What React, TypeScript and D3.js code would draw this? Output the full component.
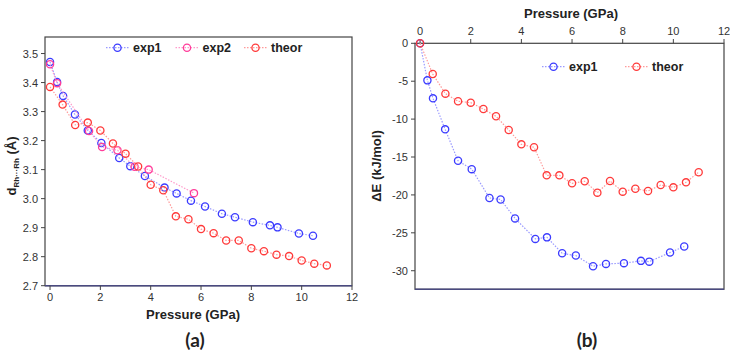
import React from "react";
import * as d3 from "d3";

// Panel (a): Rh···Rh distance vs pressure
const exp1AX = [0, 0.28, 0.52, 0.99, 1.5, 2.04, 2.75, 3.19, 3.77, 4.55, 5.03, 5.6, 6.16, 6.83, 7.35, 8.06, 8.74, 9.04, 9.89, 10.45];
const exp1AY = [3.471, 3.402, 3.354, 3.29, 3.235, 3.192, 3.14, 3.112, 3.078, 3.038, 3.018, 2.993, 2.973, 2.948, 2.936, 2.919, 2.908, 2.901, 2.88, 2.872];
const exp2AX = [0, 0.28, 1.55, 2.07, 2.68, 3.36, 3.92, 5.72];
const exp2AY = [3.463, 3.398, 3.233, 3.178, 3.167, 3.11, 3.1, 3.019];
const theorAX = [0, 0.5, 1, 1.5, 2, 2.5, 3, 3.5, 4, 4.5, 5, 5.5, 6, 6.5, 7, 7.5, 8, 8.5, 9, 9.5, 10, 10.5, 11];
const theorAY = [3.385, 3.324, 3.254, 3.262, 3.235, 3.19, 3.155, 3.111, 3.048, 3.029, 2.939, 2.929, 2.895, 2.881, 2.856, 2.856, 2.829, 2.819, 2.807, 2.802, 2.787, 2.776, 2.77];

// Panel (b): energy vs pressure
const exp1BX = [0, 0.29, 0.51, 0.99, 1.5, 2.04, 2.74, 3.18, 3.75, 4.55, 5.01, 5.61, 6.15, 6.83, 7.34, 8.05, 8.72, 9.05, 9.87, 10.43];
const exp1BY = [0, -4.89, -7.26, -11.35, -15.5, -16.6, -20.4, -20.6, -23.1, -25.8, -25.6, -27.7, -28.0, -29.4, -29.1, -29.0, -28.7, -28.8, -27.6, -26.8];
const theorBX = [0, 0.5, 1, 1.5, 2, 2.5, 3, 3.5, 4, 4.5, 5, 5.5, 6, 6.5, 7, 7.5, 8, 8.5, 9, 9.5, 10, 10.5, 11];
const theorBY = [0, -4.05, -6.64, -7.65, -7.83, -8.67, -9.63, -11.44, -13.33, -13.72, -17.42, -17.42, -18.47, -18.2, -19.7, -18.17, -19.57, -19.18, -19.48, -18.7, -19.0, -18.34, -17.0];

const xTicks = [0, 2, 4, 6, 8, 10, 12];
const yTicksA = [2.7, 2.8, 2.9, 3.0, 3.1, 3.2, 3.3, 3.4, 3.5];
const yTicksB = [0, -5, -10, -15, -20, -25, -30];

const BLUE = "#3b3bff";
const PINK = "#ff3d9a";
const RED = "#ff3a3a";
const LBLUE = "#9a9aff";
const LPINK = "#ff9acb";
const LRED = "#ff9a9a";

const FONT = "'Liberation Sans', Arial, sans-serif";

type S = { xs: number[]; ys: number[]; c: string; lc: string };

function Series({ s, x, y }: { s: S; x: any; y: any }) {
  const pts: [number, number][] = s.xs.map((v, i) => [x(v), y(s.ys[i])]);
  const line = d3.line()(pts) || "";
  return (
    <g>
      <path d={line} fill="none" stroke={s.lc} strokeWidth={1.2} strokeDasharray="1.5,1.5" />
      {pts.map((p, i) => (
        <circle key={i} cx={p[0]} cy={p[1]} r={3.6} fill="none" stroke={s.c} strokeWidth={1.3} />
      ))}
    </g>
  );
}

function LegendItem({ x, y, c, lc, label }: { x: number; y: number; c: string; lc: string; label: string }) {
  return (
    <g>
      <line x1={x} x2={x + 23} y1={y} y2={y} stroke={lc} strokeWidth={1.2} strokeDasharray="1.5,1.5" />
      <circle cx={x + 11.5} cy={y} r={3.6} fill="none" stroke={c} strokeWidth={1.3} />
      <text x={x + 27} y={y + 4.5} fontSize={12.5} fontWeight="bold" fontFamily={FONT} fill="#222">{label}</text>
    </g>
  );
}

export default function App() {
  // Panel a
  const ax = d3.scaleLinear().domain([-0.2, 12]).range([45, 352]);
  const ay = d3.scaleLinear().domain([2.7, 3.557]).range([285.7, 37]);
  // Panel b
  const bx = d3.scaleLinear().domain([-0.2, 12]).range([415, 724]);
  const by = d3.scaleLinear().domain([-32.45, 0]).range([289.3, 43.3]);

  const tickFs = 11;

  return (
    <svg width={730} height={353} style={{ position: "absolute", left: 0, top: 0, background: "#fff" }}>
      {/* ===== Panel a ===== */}
      <rect x={45} y={37} width={307} height={248.7} fill="none" stroke="#444" strokeWidth={1.2} />
      <line x1={45} x2={352} y1={285.7} y2={285.7} stroke="#4a4a80" strokeWidth={1.6} />
      {xTicks.map((t) => (
        <g key={"ax" + t}>
          <line x1={ax(t)} x2={ax(t)} y1={285.7} y2={290} stroke="#444" />
          <text x={ax(t)} y={301} textAnchor="middle" fontSize={tickFs} fontFamily={FONT} fill="#333">{t}</text>
        </g>
      ))}
      {yTicksA.map((t) => (
        <g key={"ay" + t}>
          <line x1={41} x2={45} y1={ay(t)} y2={ay(t)} stroke="#444" />
          <text x={38} y={ay(t) + 4} textAnchor="end" fontSize={tickFs} fontFamily={FONT} fill="#333">{t.toFixed(1)}</text>
        </g>
      ))}
      <text x={193} y={319} textAnchor="middle" fontSize={13} fontWeight="bold" fontFamily={FONT} fill="#222">Pressure (GPa)</text>
      <text transform="translate(16,166) rotate(-90)" textAnchor="middle" fontSize={13} fontWeight="bold" fontFamily={FONT} fill="#222">
        d<tspan fontSize={8} dy={3}>Rh···Rh</tspan><tspan dy={-3}> (Å)</tspan>
      </text>
      <Series s={{ xs: exp1AX, ys: exp1AY, c: BLUE, lc: LBLUE }} x={ax} y={ay} />
      <Series s={{ xs: exp2AX, ys: exp2AY, c: PINK, lc: LPINK }} x={ax} y={ay} />
      <Series s={{ xs: theorAX, ys: theorAY, c: RED, lc: LRED }} x={ax} y={ay} />
      <LegendItem x={106} y={47.7} c={BLUE} lc={LBLUE} label="exp1" />
      <LegendItem x={175.5} y={47.7} c={PINK} lc={LPINK} label="exp2" />
      <LegendItem x={244} y={47.7} c={RED} lc={LRED} label="theor" />
      <text x={195} y={347} textAnchor="middle" fontSize={19} fontWeight="bold" fontFamily="Lato, sans-serif" fill="#222">(a)</text>

      {/* ===== Panel b ===== */}
      <rect x={415} y={43.3} width={309} height={246} fill="none" stroke="#444" strokeWidth={1.2} />
      <line x1={415} x2={724} y1={289.3} y2={289.3} stroke="#4a4a80" strokeWidth={1.6} />
      {xTicks.map((t) => (
        <g key={"bx" + t}>
          <line x1={bx(t)} x2={bx(t)} y1={43.3} y2={39} stroke="#444" />
          <text x={bx(t)} y={35} textAnchor="middle" fontSize={tickFs} fontFamily={FONT} fill="#333">{t}</text>
        </g>
      ))}
      {yTicksB.map((t) => (
        <g key={"by" + t}>
          <line x1={411} x2={415} y1={by(t)} y2={by(t)} stroke="#444" />
          <text x={408} y={by(t) + 4} textAnchor="end" fontSize={tickFs} fontFamily={FONT} fill="#333">{t}</text>
        </g>
      ))}
      <text x={571} y={18} textAnchor="middle" fontSize={13} fontWeight="bold" fontFamily={FONT} fill="#222">Pressure (GPa)</text>
      <text transform="translate(381,166) rotate(-90)" textAnchor="middle" fontSize={13} fontWeight="bold" fontFamily={FONT} fill="#222">ΔE (kJ/mol)</text>
      <Series s={{ xs: exp1BX, ys: exp1BY, c: BLUE, lc: LBLUE }} x={bx} y={by} />
      <Series s={{ xs: theorBX, ys: theorBY, c: RED, lc: LRED }} x={bx} y={by} />
      <LegendItem x={542} y={66.7} c={BLUE} lc={LBLUE} label="exp1" />
      <LegendItem x={625} y={66.7} c={RED} lc={LRED} label="theor" />
      <text x={587} y={347} textAnchor="middle" fontSize={19} fontWeight="bold" fontFamily="Lato, sans-serif" fill="#222">(b)</text>
    </svg>
  );
}
